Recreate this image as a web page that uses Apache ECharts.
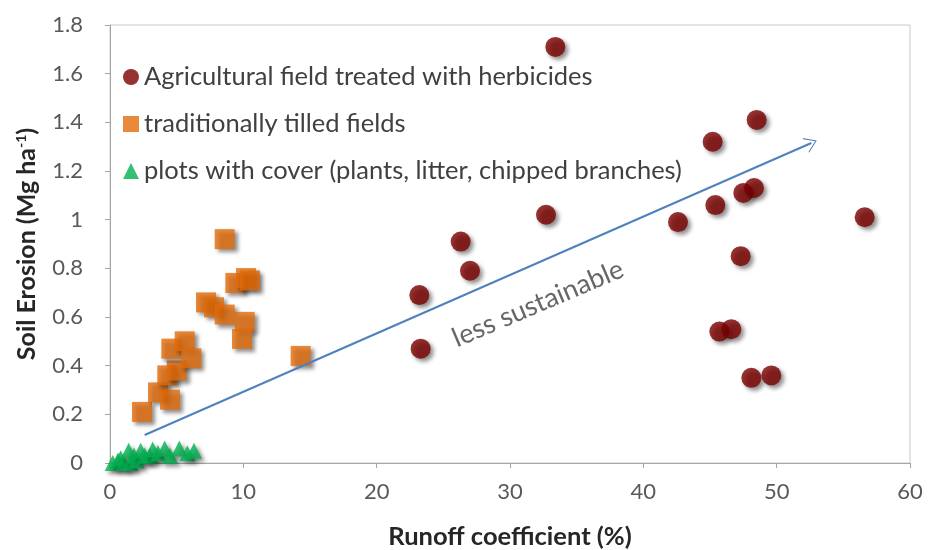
<!DOCTYPE html>
<html>
<head>
<meta charset="utf-8">
<script src="https://cdn.jsdelivr.net/npm/echarts@6/dist/echarts.min.js"></script>
<style>html,body{margin:0;padding:0;background:#fff}#c{width:931px;height:550px}</style>
</head>
<body>
<div id="c"></div>
<script>
// Data (Runoff coefficient %, Soil erosion Mg/ha)
const herbicidePoints = [
  [33.4,1.71],[48.5,1.41],[45.2,1.32],[56.6,1.01],[47.5,1.11],[48.3,1.13],
  [45.4,1.06],[42.6,0.99],[32.7,1.02],[26.3,0.91],[27.0,0.79],[23.2,0.69],
  [23.3,0.47],[47.3,0.85],[45.7,0.54],[46.6,0.55],[48.1,0.35],[49.6,0.36]
];
const tilledPoints = [
  [2.4,0.21],[3.6,0.29],[4.5,0.26],[4.3,0.36],[5.0,0.38],[4.6,0.47],
  [5.6,0.50],[6.1,0.43],[7.2,0.66],[7.8,0.64],[8.6,0.61],[8.6,0.92],
  [9.4,0.74],[10.2,0.76],[10.5,0.75],[10.1,0.58],[9.9,0.51],[14.3,0.44]
];
const coverPoints = [
  [0.2,0.0],[0.6,0.01],[0.8,0.02],[1.0,0.0],[1.4,0.05],[1.5,0.0],[1.8,0.03],
  [2.0,0.01],[2.3,0.05],[2.6,0.03],[3.0,0.03],[3.2,0.055],[3.6,0.04],
  [4.1,0.06],[4.5,0.03],[5.2,0.06],[5.8,0.04],[6.3,0.05]
];
const seriesNames = [
  'Agricultural field treated with herbicides',
  'traditionally tilled fields',
  'plots with cover (plants, litter, chipped branches)'
];
const arrowStart = [2.6, 0.115];
const arrowEnd = [52.6, 1.315];
const arrowLabel = 'less sustainable';
const arrowLabelPos = [32.1, 0.655];
const xTitle = 'Runoff coefficient (%)';

const FONT = 'Lato, "Open Sans", sans-serif';
const shadow = {shadowBlur: 4, shadowColor: 'rgba(0,0,0,0.55)', shadowOffsetX: 3, shadowOffsetY: 3};

const chart = echarts.init(document.getElementById('c'), null, {renderer: 'canvas'});
chart.setOption({
  animation: false,
  backgroundColor: '#ffffff',
  grid: {left: 110, right: 21, top: 25, bottom: 87, containLabel: false, outerBoundsMode: 'none',
    show: true, borderColor: '#c8c8c8', borderWidth: 1},
  legend: {
    orient: 'vertical', left: 118, top: 59, itemWidth: 16, itemHeight: 16, itemGap: 21,
    textStyle: {fontSize: 25.5, color: '#404040', fontFamily: FONT},
    data: [
      {name: seriesNames[0], icon: 'circle'},
      {name: seriesNames[1], icon: 'rect'},
      {name: seriesNames[2], icon: 'triangle'}
    ]
  },
  xAxis: {
    type: 'value', min: 0, max: 60, interval: 10,
    name: xTitle, nameLocation: 'middle', nameGap: 61,
    nameTextStyle: {fontSize: 25.5, fontWeight: 'bold', color: '#262626', fontFamily: FONT},
    axisLine: {lineStyle: {color: '#a6a6a6'}},
    axisTick: {show: true, length: 5, lineStyle: {color: '#a6a6a6'}},
    axisLabel: {fontSize: 22, color: '#595959', margin: 18, fontFamily: FONT},
    splitLine: {show: false}
  },
  yAxis: {
    type: 'value', min: 0, max: 1.8, interval: 0.2,
    name: 'Soil Erosion (Mg ha{sup|-1})', nameLocation: 'middle', nameGap: 70, nameRotate: 90,
    nameTextStyle: {fontSize: 25, fontWeight: 'bold', color: '#262626', fontFamily: FONT,
      rich: {sup: {fontSize: 14, fontWeight: 'bold', color: '#262626', verticalAlign: 'top', padding: [0,0,12,0], fontFamily: FONT}}},
    axisLine: {show: true, lineStyle: {color: '#a6a6a6'}},
    axisTick: {show: true, length: 5, lineStyle: {color: '#a6a6a6'}},
    axisLabel: {fontSize: 22, color: '#595959', margin: 27, fontFamily: FONT},
    splitLine: {show: false}
  },
  series: [
    {
      name: '_arrow', type: 'line', data: [], silent: true,
      markLine: {
        silent: true, animation: false,
        symbol: ['none', 'path://M0,14 L10,0 L20,14 L18.5,14 L10,2.2 L1.5,14 Z'],
        symbolSize: [16, 12],
        lineStyle: {color: '#4f81bd', width: 2, type: 'solid'},
        label: {show: false},
        data: [[{coord: arrowStart}, {coord: arrowEnd}]]
      }
    },
    {
      name: seriesNames[0], type: 'scatter', symbol: 'circle', symbolSize: 20,
      itemStyle: Object.assign({color: '#7b0000'}, shadow), data: herbicidePoints, z: 3
    },
    {
      name: seriesNames[1], type: 'scatter', symbol: 'rect', symbolSize: 20,
      itemStyle: Object.assign({color: '#e46c0a'}, shadow), data: tilledPoints, z: 3
    },
    {
      name: seriesNames[2], type: 'scatter', symbol: 'triangle', symbolSize: [16, 16],
      itemStyle: Object.assign({color: '#00b050'}, shadow), data: coverPoints, z: 3
    },
    {
      name: '_label', type: 'scatter', symbolSize: 0, silent: true, data: [arrowLabelPos],
      label: {show: true, position: 'inside', formatter: arrowLabel, rotate: 23,
        fontSize: 27, color: '#404040', fontFamily: FONT}
    }
  ]
});
</script>
</body>
</html>
